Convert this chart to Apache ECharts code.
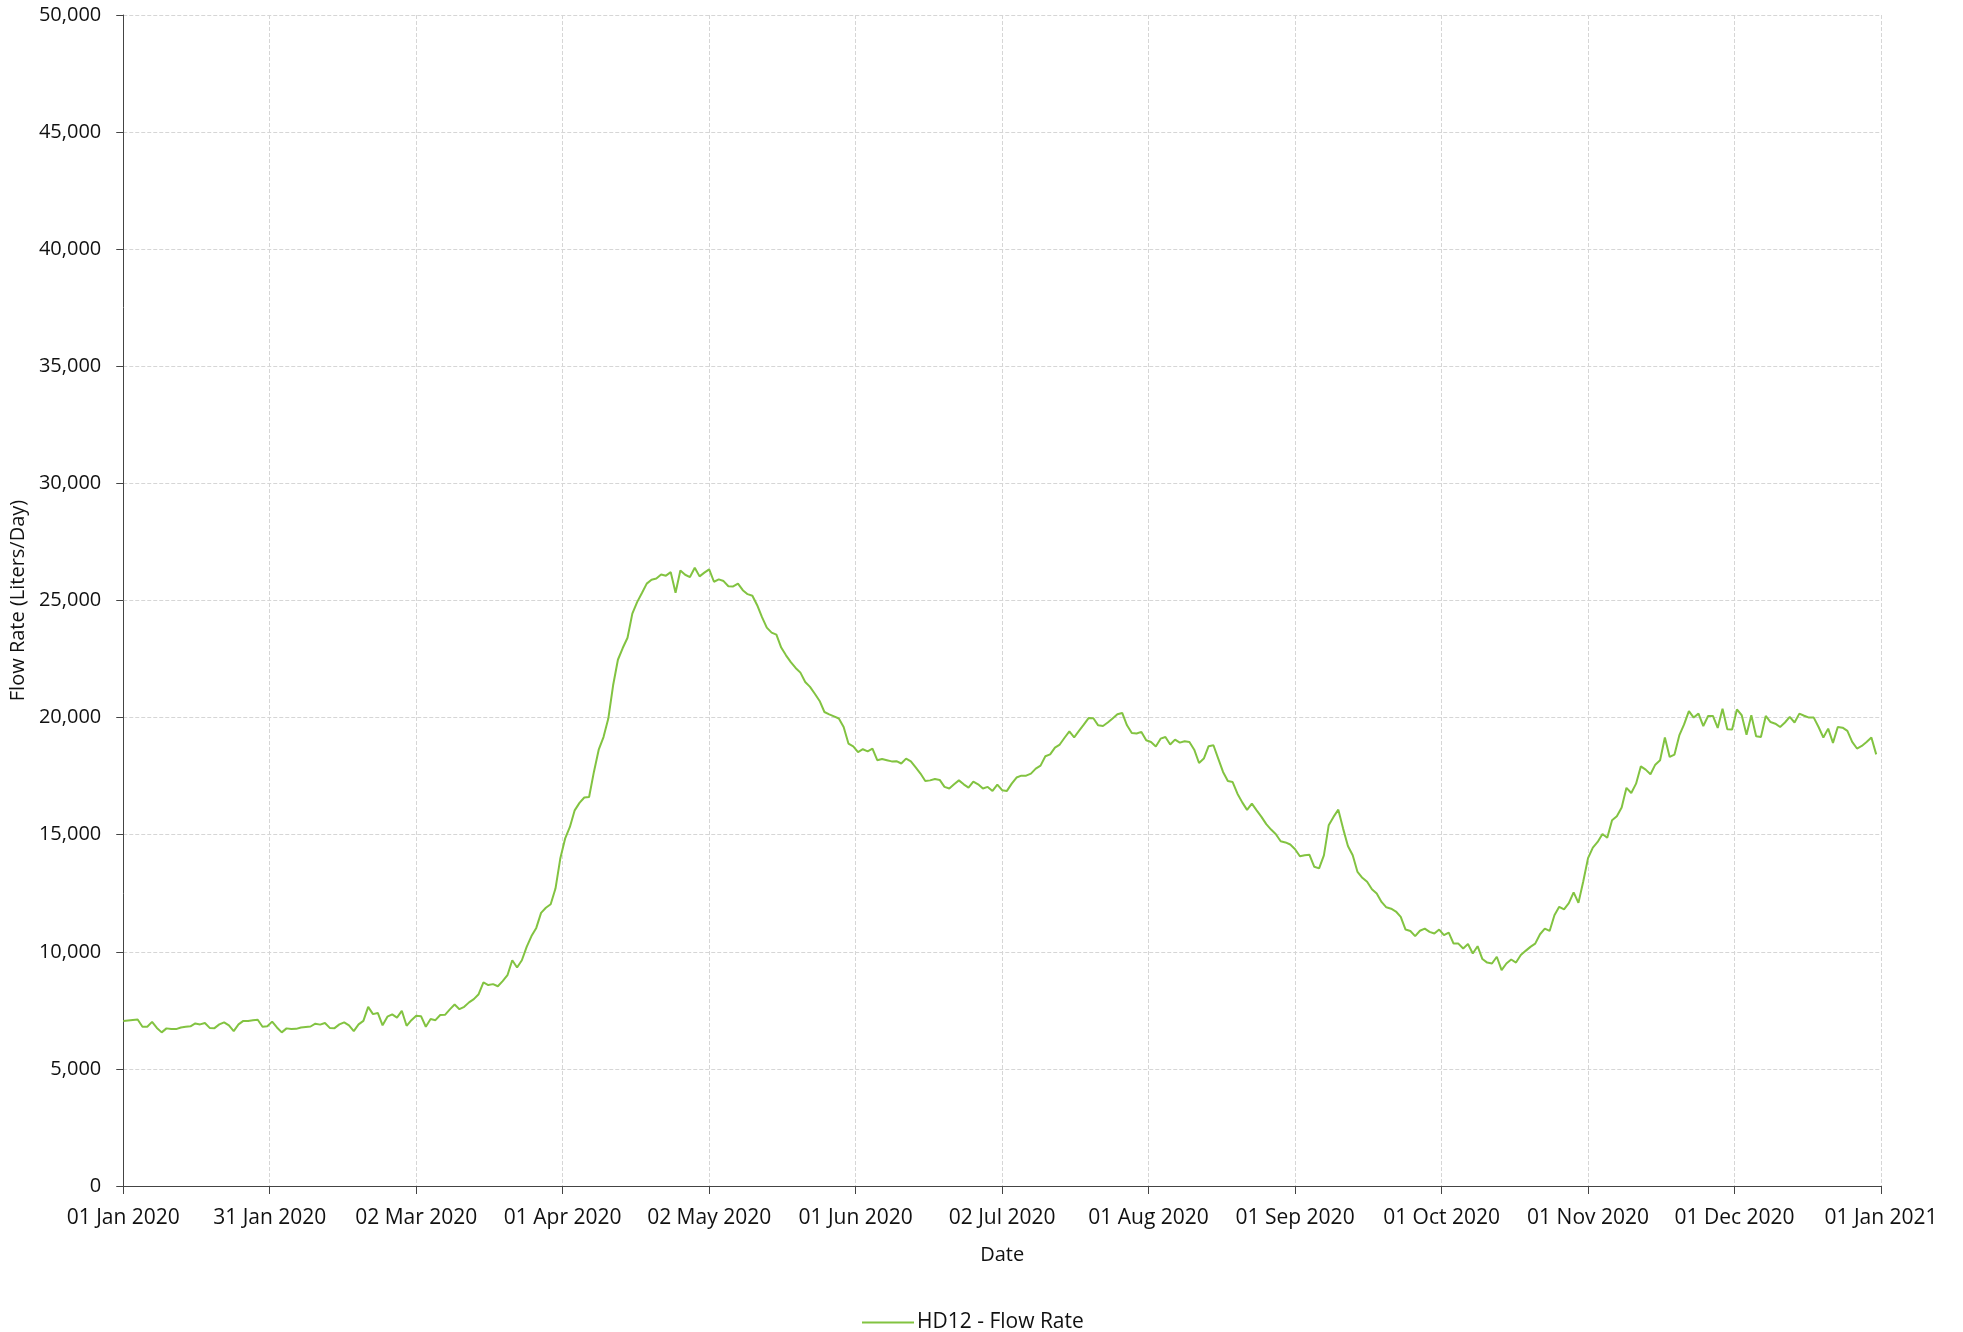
<!DOCTYPE html>
<html>
<head>
<meta charset="utf-8">
<script src="https://cdn.jsdelivr.net/npm/echarts@6/dist/echarts.min.js"></script>
<style>
html,body{margin:0;padding:0;background:#fff;}
#chart{width:1963px;height:1332px;}
</style>
</head>
<body>
<div id="chart"></div>
<script>
// Daily flow rate (Liters/Day), 2020, one array per month
const jan = [7050,7070,7090,7110,6800,6800,7010,6750,6560,6730,6700,6700,6770,6800,6820,6940,6900,6960,6750,6740,6900,6990,6860,6610,6900,7050,7050,7080,7100,6800,6820];
const feb = [7020,6770,6560,6730,6700,6710,6770,6790,6810,6930,6890,6960,6750,6740,6900,6990,6860,6610,6900,7050,7650,7340,7390,6860,7230,7330,7190,7480,6840];
const mar = [7080,7270,7250,6800,7130,7080,7300,7310,7540,7750,7550,7650,7840,7980,8190,8690,8580,8620,8530,8750,9000,9640,9330,9640,10210,10670,11020,11660,11880,12030,12700];
const apr = [13980,14830,15330,16040,16360,16590,16610,17680,18630,19170,19960,21380,22470,22970,23410,24440,24930,25320,25720,25890,25940,26110,26060,26210,25330,26280,26100,26000,26400,26030];
const may = [26190,26330,25800,25900,25830,25610,25600,25720,25440,25270,25200,24800,24290,23840,23630,23540,22990,22660,22370,22120,21920,21520,21310,21020,20710,20240,20140,20050,19960,19600,18890];
const jun = [18770,18530,18650,18560,18680,18180,18230,18180,18130,18140,18040,18250,18130,17870,17610,17290,17320,17380,17340,17040,16970,17150,17320,17150,17010,17270,17150,16970,17040,16870];
const jul = [17140,16900,16870,17180,17440,17520,17520,17610,17820,17950,18350,18430,18720,18850,19140,19410,19160,19430,19700,19980,19970,19670,19640,19790,19960,20140,20200,19670,19340,19320,19390];
const aug = [19030,18960,18770,19100,19170,18850,19060,18930,18990,18960,18630,18060,18250,18780,18820,18250,17680,17290,17250,16750,16380,16060,16330,16040,15760,15450,15220,15020,14720,14670,14580];
const sep = [14380,14080,14120,14140,13630,13560,14120,15400,15760,16070,15260,14520,14120,13410,13160,12990,12670,12490,12130,11900,11840,11720,11490,10950,10890,10670,10900,10990,10850,10780];
const oct = [10950,10710,10820,10350,10350,10140,10330,9930,10240,9690,9540,9500,9790,9220,9500,9670,9540,9860,10040,10210,10350,10750,10990,10890,11560,11920,11810,12080,12540,12090,13000];
const nov = [14000,14450,14690,15030,14870,15620,15790,16160,17000,16780,17180,17920,17780,17580,17990,18180,19150,18320,18420,19240,19710,20280,20000,20170,19640,20070,20070,19560,20380,19500];
const dec = [19490,20350,20100,19270,20100,19200,19170,20070,19810,19740,19600,19790,20030,19790,20170,20080,20000,20000,19600,19150,19530,18920,19600,19570,19430,18960,18680,18790,18960,19150,18430];

const seriesName = 'HD12 - Flow Rate';
const monthNames = ['Jan','Feb','Mar','Apr','May','Jun','Jul','Aug','Sep','Oct','Nov','Dec'];
const startMs = Date.UTC(2020,0,1);
const dayMs = 86400000;

const values = [].concat(jan,feb,mar,apr,may,jun,jul,aug,sep,oct,nov,dec);
const data = values.map((v,i)=>[i,v]);

function fmtDay(d){
  const dt = new Date(startMs + d*dayMs);
  const dd = String(dt.getUTCDate()).padStart(2,'0');
  return dd + ' ' + monthNames[dt.getUTCMonth()] + ' ' + dt.getUTCFullYear();
}

const FONT = '"Open Sans", "Noto Sans", sans-serif';
const chart = echarts.init(document.getElementById('chart'), null, {renderer:'canvas'});
chart.setOption({
  animation:false,
  backgroundColor:'#fff',
  textStyle:{fontFamily:FONT},
  grid:{left:123,right:82,top:15,bottom:146,containLabel:false},
  legend:{
    top:1307,left:857,
    icon:'rect',
    itemWidth:52,itemHeight:2,itemGap:10,
    textStyle:{fontFamily:FONT,fontSize:21,color:'#111',padding:[0,0,0,-2]},
    data:[{name:seriesName}]
  },
  xAxis:{
    type:'value',min:0,max:366,interval:30.5,
    name:'Date',nameLocation:'middle',nameGap:59,
    nameTextStyle:{fontFamily:FONT,fontSize:20,color:'#111'},
    axisLine:{show:true,lineStyle:{color:'#444',width:1}},
    axisTick:{show:true,length:8,lineStyle:{color:'#444'}},
    axisLabel:{formatter:fmtDay,fontFamily:FONT,fontSize:21,color:'#111',margin:22,showMinLabel:true,showMaxLabel:true,hideOverlap:false},
    splitLine:{show:true,lineStyle:{color:'#d6d6d6',type:'dashed',width:1}}
  },
  yAxis:{
    type:'value',min:0,max:50000,interval:5000,
    name:'Flow Rate (Liters/Day)',nameLocation:'middle',nameGap:92,nameRotate:90,
    nameTextStyle:{fontFamily:FONT,fontSize:20,color:'#111'},
    axisLine:{show:true,lineStyle:{color:'#444',width:1}},
    axisTick:{show:true,length:7,lineStyle:{color:'#444'}},
    axisLabel:{fontFamily:FONT,fontSize:20,color:'#111',margin:22,
      formatter:v=>v.toLocaleString('en-US')},
    splitLine:{show:true,lineStyle:{color:'#d6d6d6',type:'dashed',width:1}}
  },
  series:[{
    name:seriesName,type:'line',data:data,
    symbol:'none',showSymbol:false,smooth:false,
    lineStyle:{color:'#82c341',width:2},
    itemStyle:{color:'#82c341'}
  }]
});
</script>
</body>
</html>
